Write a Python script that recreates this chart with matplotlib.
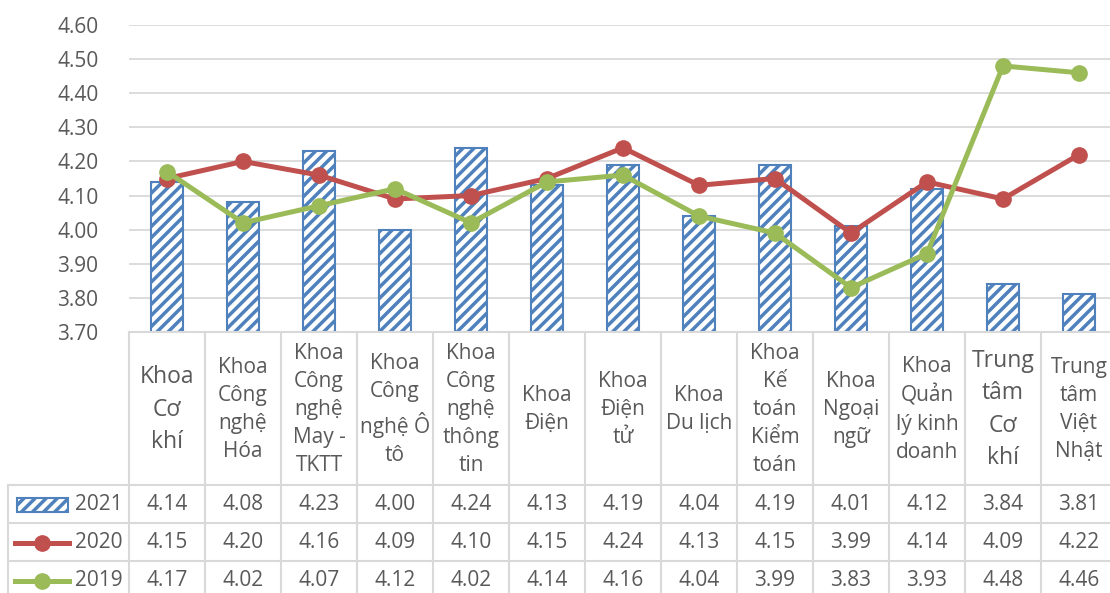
import matplotlib
matplotlib.use("Agg")
import matplotlib.pyplot as plt
from matplotlib.lines import Line2D
from matplotlib.patches import Rectangle
from matplotlib.transforms import Affine2D, blended_transform_factory

plt.rcParams['font.family'] = ['Open Sans', 'DejaVu Sans']
plt.rcParams['hatch.linewidth'] = 2.5

categories = ["Khoa\nCơ\nkhí", "Khoa\nCông\nnghệ\nHóa", "Khoa\nCông\nnghệ\nMay -\nTKTT",
              "Khoa\nCông\nnghệ Ô\ntô", "Khoa\nCông\nnghệ\nthông\ntin", "Khoa\nĐiện",
              "Khoa\nĐiện\ntử", "Khoa\nDu lịch", "Khoa\nKế\ntoán\nKiểm\ntoán",
              "Khoa\nNgoại\nngữ", "Khoa\nQuản\nlý kinh\ndoanh", "Trung\ntâm\nCơ\nkhí",
              "Trung\ntâm\nViệt\nNhật"]
label_sizes = [16.5, 15, 15, 15, 15, 15, 15, 15, 15, 15, 15, 16.5, 15]
series_names = ["2021", "2020", "2019"]
v2021 = [4.14, 4.08, 4.23, 4.00, 4.24, 4.13, 4.19, 4.04, 4.19, 4.01, 4.12, 3.84, 3.81]
v2020 = [4.15, 4.20, 4.16, 4.09, 4.10, 4.15, 4.24, 4.13, 4.15, 3.99, 4.14, 4.09, 4.22]
v2019 = [4.17, 4.02, 4.07, 4.12, 4.02, 4.14, 4.16, 4.04, 3.99, 3.83, 3.93, 4.48, 4.46]
yticks = [3.70, 3.80, 3.90, 4.00, 4.10, 4.20, 4.30, 4.40, 4.50, 4.60]

BLUE = "#4F81BD"
RED = "#C0504D"
GREEN = "#9BBB59"
GRID = "#D9D9D9"
TXT = "#595959"

W, H = 1110, 593
fig = plt.figure(figsize=(W / 100, H / 100), dpi=100)
n = len(categories)
col_w = 76
left_px, top_px, bottom_px = 129, 25, 332
ax = fig.add_axes([left_px / W, 1 - bottom_px / H, n * col_w / W, (bottom_px - top_px) / H])

x = list(range(n))
ax.bar(x, [v - 3.70 for v in v2021], bottom=3.70, width=0.42, facecolor="white",
       edgecolor=BLUE, hatch="///", linewidth=1.5, zorder=2)
ax.plot(x, v2020, color=RED, lw=3.6, marker="o", ms=11, zorder=3, solid_capstyle="round")
ax.plot(x, v2019, color=GREEN, lw=3.6, marker="o", ms=11, zorder=4, solid_capstyle="round")

ax.set_xlim(-0.5, n - 0.5)
ax.set_ylim(3.70, 4.60)
ax.set_yticks(yticks)
ax.set_yticklabels([f"{t:.2f}" for t in yticks], fontsize=15, color=TXT)
ax.tick_params(axis="y", length=0, pad=22)
ax.tick_params(axis="x", length=0, labelbottom=False)
ax.yaxis.grid(True, color=GRID, lw=1.3, zorder=0)
ax.set_axisbelow(True)
for s in ["top", "right", "left"]:
    ax.spines[s].set_visible(False)
ax.spines["bottom"].set_color(GRID)
ax.spines["bottom"].set_linewidth(1.5)

# pixel-from-top coordinates for the data table below the plot
pix = Affine2D().scale(1 / W, -1 / H).translate(0, 1) + fig.transFigure
colx = blended_transform_factory(ax.transData, pix)

header_top, header_bot = 332, 485
row_edges = [485, 523, 561, 599]
row_centers = [504, 543, 581]
table_left = 8

# vertical separators between categories
for i in range(n + 1):
    fig.add_artist(Line2D([i - 0.5, i - 0.5], [header_top, 600], transform=colx,
                          color=GRID, lw=1.5))
fig.add_artist(Line2D([table_left, table_left], [header_bot, 600], transform=pix,
                      color=GRID, lw=1.5))
# horizontal separators
for y in row_edges[:-1]:
    fig.add_artist(Line2D([table_left, 1200], [y, y], transform=pix, color=GRID, lw=1.5))

# category header labels
for i, (c, fs) in enumerate(zip(categories, label_sizes)):
    fig.text(i, (header_top + header_bot) / 2 + 1, c, transform=colx, ha="center",
             va="center", fontsize=fs, color=TXT, linespacing=1.45, multialignment="center")

# value rows
for vals, yc in zip([v2021, v2020, v2019], row_centers):
    for i, v in enumerate(vals):
        fig.text(i, yc, f"{v:.2f}", transform=colx, ha="center", va="center",
                 fontsize=15, color=TXT)

# legend keys in the first column
fig.add_artist(Rectangle((17, 498), 51, 14, transform=pix, facecolor="white",
                         edgecolor=BLUE, hatch="///", lw=1.5))
for color, yc in [(RED, row_centers[1]), (GREEN, row_centers[2])]:
    fig.add_artist(Line2D([15, 69], [yc, yc], transform=pix, color=color, lw=3.6))
    fig.add_artist(Line2D([42], [yc], transform=pix, color=color, marker="o", ms=11))
for name, yc in zip(series_names, row_centers):
    fig.text(123, yc, name, transform=pix, ha="right", va="center", fontsize=15, color=TXT)

fig.savefig("out.png", dpi=100)
